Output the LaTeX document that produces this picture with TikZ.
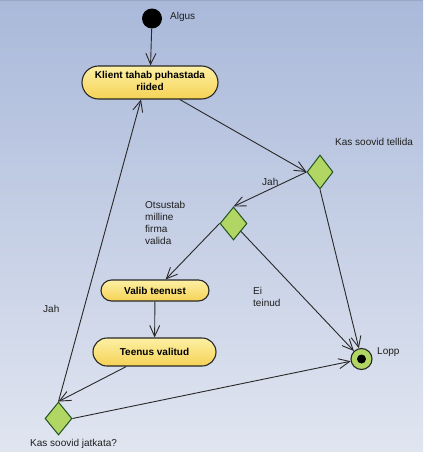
\documentclass[tikz,border=0pt]{standalone}
\usepackage{fontspec}
\setmainfont{Liberation Sans}
\usetikzlibrary{shapes.geometric,shapes.misc,arrows.meta}
\definecolor{bgtop}{RGB}{170,185,218}
\definecolor{bgbot}{RGB}{224,229,240}
\definecolor{ytop}{RGB}{253,240,165}
\definecolor{ybot}{RGB}{245,210,85}
\definecolor{gfill}{RGB}{178,214,100}
\definecolor{edge}{RGB}{40,40,40}
\definecolor{txt}{RGB}{30,30,30}
\begin{document}
\begin{tikzpicture}[x=1pt,y=-1pt,
  act/.style={rounded rectangle, draw=edge, line width=1.1pt, top color=ytop, bottom color=ybot,
    font=\fontsize{10}{12}\selectfont\bfseries, text=black, align=center, inner sep=0pt},
  dec/.style={diamond, draw=edge!80!green, line width=1pt, fill=gfill, inner sep=0pt},
  lbl/.style={anchor=west, font=\fontsize{10}{12}\selectfont, text=txt, align=left, inner sep=0pt},
  conn/.style={draw=edge, line width=0.9pt, -{Straight Barb[length=11pt,width=10pt]}}
]
\useasboundingbox (0,0) rectangle (423,452);
\fill[top color=bgtop, bottom color=bgbot] (0,0) rectangle (423,452);
\fill[bgtop!90!black] (0,0) rectangle (423,1.5);

% nodes
\node[circle, fill=black, minimum size=20pt, inner sep=0pt] (start) at (152,18.5) {};
\node[act, minimum width=136pt, minimum height=33pt] (top) at (150,82.5)
  {\raisebox{-3pt}{\begin{tabular}{@{}c@{}}Klient tahab puhastada\\riided\end{tabular}}};
\node[dec, minimum width=26pt, minimum height=34pt] (d1) at (320,172) {};
\node[dec, minimum width=27pt, minimum height=33pt] (d2) at (233.5,223.5) {};
\node[act, minimum width=108pt, minimum height=21pt] (valib) at (155,290.5) {\raisebox{-2.5pt}{Valib teenust}};
\node[act, minimum width=123pt, minimum height=28pt] (teenus) at (154.5,352) {Teenus valitud};
\node[dec, minimum width=27pt, minimum height=33pt] (d3) at (58.5,418.5) {};
\node[circle, draw=edge, line width=1.1pt, fill=gfill, minimum size=21pt, inner sep=0pt] (lopp) at (361.5,359) {};
\fill[black] (lopp.center) circle (4.5pt);

% labels
\node[lbl] (lalgus) at (170,17) {Algus};
\node[lbl] (ltell) at (335,142) {Kas soovid tellida};
\node[lbl] (ljah1) at (262,182) {Jah};
\node[lbl] (lots) at (145,223) {Otsustab\\milline\\firma\\valida};
\node[lbl] (lei) at (253,297) {Ei\\teinud};
\node[lbl] (ljah2) at (43,309) {Jah};
\node[lbl] (llopp) at (377,352) {Lopp};
\node[lbl] (ljatk) at (30,444) {Kas soovid jatkata?};

% connectors
\draw[conn] (start) -- (top);
\draw[conn] (top) -- (d1.west);
\draw[conn] (d1.west) -- (d2.north);
\draw[conn] (d2.west) -- (valib);
\draw[conn] (valib) -- (teenus);
\draw[conn] (teenus) -- (d3.north);
\draw[conn] (d3.north) -- ([xshift=-9pt]top.south);
\draw[conn] (d3.east) -- (lopp);
\draw[conn] (d2) -- (lopp);
\draw[conn] (d1.south) -- (lopp);
\end{tikzpicture}
\end{document}
